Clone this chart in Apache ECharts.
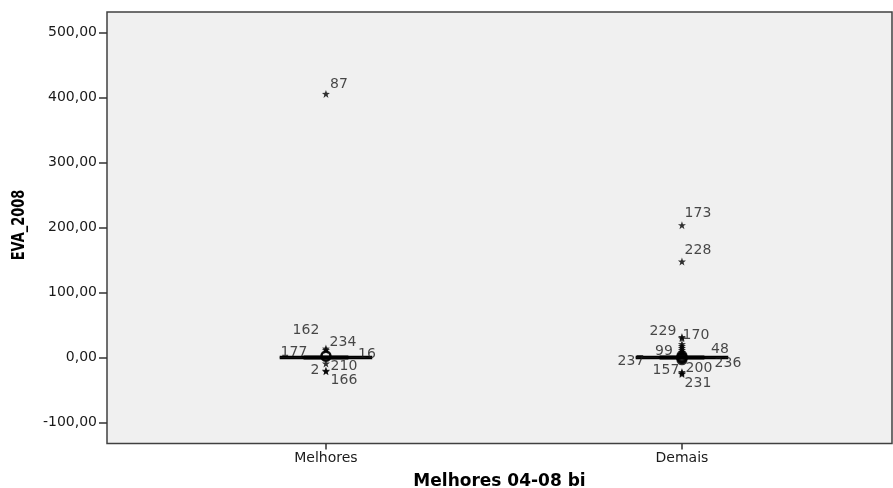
<!DOCTYPE html>
<html><head><meta charset="utf-8">
<script src="https://cdn.jsdelivr.net/npm/echarts@6/dist/echarts.min.js"></script>
<style>html,body{margin:0;padding:0;background:#fff}#c{width:893px;height:488px}</style>
</head><body><div id="c"></div>
<script>
const categories = ['Melhores', 'Demais'];
const yTicks = [-100, 0, 100, 200, 300, 400, 500];
const yTitle = 'EVA_2008';
const xTitle = 'Melhores 04-08 bi';
// box statistics per category: [min, Q1, median, Q3, max]
const boxMelhores = [-1, -0.4, 0.3, 0.8, 1.5];
const boxDemais = [-1, -0.4, 0.3, 0.8, 1.5];
// extreme cases (stars)
const melhoresExtremeIds = ['87', '162', '234', '2', '210', '166'];
const melhoresExtremeVals = [406, 14, 12, -20, -9, -21];
const demaisExtremeIds = ['173', '228', '229', '170', '99', '48', '157', '200', '231', '', '', '', ''];
const demaisExtremeVals = [204, 148, 32, 30, 15, 12, -22, -24, -25, 6, 9, 18, 21];
// outlier cases (circles)
const melhoresOutlierIds = ['177', '16'];
const melhoresOutlierVals = [3, 2];
const demaisOutlierIds = ['237', '236', '', '', ''];
const demaisOutlierVals = [1, -1, -3, 3, 0];

// label placement (style): offset in px from the mark
const labelOffset = {
  '87': [13, -10], '162': [-20, -18], '234': [17, -8], '2': [-11, 0], '210': [18, 3], '166': [18, 9],
  '177': [-32, -3], '16': [41, -2],
  '173': [16, -12], '228': [16, -11], '229': [-19, -6], '170': [14, -3], '99': [-18, 3], '48': [38, -1],
  '157': [-16, -2], '200': [17, -5], '231': [16, 9], '237': [-51, 4], '236': [46, 5]
};

const starPath = 'path://M0,-10 L2.35,-3.24 L9.51,-3.09 L3.8,1.24 L5.88,8.09 L0,4 L-5.88,8.09 L-3.8,1.24 L-9.51,-3.09 L-2.35,-3.24 Z';

function pts(cat, vals, ids) {
  return vals.map((v, i) => {
    const id = ids[i];
    const o = labelOffset[id] || [0, 0];
    return {
      value: [cat, v],
      label: { show: id !== '', formatter: id, position: 'inside', offset: o }
    };
  });
}

const extremes = pts(0, melhoresExtremeVals, melhoresExtremeIds).concat(pts(1, demaisExtremeVals, demaisExtremeIds));
const outliers = pts(0, melhoresOutlierVals, melhoresOutlierIds).concat(pts(1, demaisOutlierVals, demaisOutlierIds));
const boxData = [[0].concat(boxMelhores), [1].concat(boxDemais)];

const labelStyle = { fontFamily: 'DejaVu Sans', fontSize: 14, color: '#1a1a1a', align: 'center', verticalAlign: 'middle' };

const chart = echarts.init(document.getElementById('c'), null, { renderer: 'canvas' });
chart.setOption({
  animation: false,
  backgroundColor: '#fff',
  grid: { left: 107, right: 1, top: 12, bottom: 44.5, containLabel: false, outerBoundsMode: 'none', show: true, backgroundColor: '#f0f0f0', borderColor: '#404040', borderWidth: 1.5 },
  graphic: [{
    type: 'text', x: 19, y: 225, rotation: Math.PI / 2, scaleX: 0.72,
    style: { text: yTitle, font: 'bold 18px "DejaVu Sans"', fill: '#000', align: 'center', verticalAlign: 'middle' }
  }],
  xAxis: {
    type: 'value', min: -0.615, max: 1.59,
    splitLine: { show: false },
    axisLine: { show: false, onZero: false },
    axisTick: { show: true, customValues: [0, 1], length: 6, lineStyle: { color: '#333', width: 1.5 } },
    axisLabel: { customValues: [0, 1], formatter: v => categories[Math.round(v)], margin: 8, fontFamily: 'DejaVu Sans', fontSize: 14, color: '#1a1a1a' },
    name: xTitle, nameLocation: 'middle', nameGap: 30,
    nameTextStyle: { fontFamily: 'DejaVu Sans', fontWeight: 'bold', fontSize: 17, color: '#000' }
  },
  yAxis: {
    type: 'value', min: -132, max: 532,
    splitLine: { show: false },
    axisLine: { show: false, onZero: false },
    axisTick: { show: true, customValues: yTicks, length: 8, lineStyle: { color: '#333', width: 1.5 } },
    axisLabel: { customValues: yTicks, formatter: v => v.toFixed(2).replace('.', ','), margin: 10, fontFamily: 'DejaVu Sans', fontSize: 14, color: '#1a1a1a' }
  },
  series: [
    {
      type: 'custom',
      data: boxData,
      z: 3,
      renderItem: function (params, api) {
        const x = api.value(0);
        const st = [api.value(1), api.value(2), api.value(3), api.value(4), api.value(5)];
        const wide = api.size([0.26, 0])[0];
        const narrow = api.size([0.126, 0])[0];
        const p = st.map(v => api.coord([x, v]));
        const cx = p[0][0];
        return {
          type: 'group',
          children: [
            { type: 'line', shape: { x1: cx - wide / 2, y1: p[0][1], x2: cx + wide / 2, y2: p[0][1] }, style: { stroke: '#000', lineWidth: 2 } },
            { type: 'line', shape: { x1: cx - wide / 2, y1: p[4][1], x2: cx + wide / 2, y2: p[4][1] }, style: { stroke: '#000', lineWidth: 2 } },
            { type: 'rect', shape: { x: cx - narrow / 2, y: p[3][1], width: narrow, height: p[1][1] - p[3][1] }, style: { stroke: '#000', fill: '#000', lineWidth: 2 } },
            { type: 'line', shape: { x1: cx - narrow / 2, y1: p[2][1], x2: cx + narrow / 2, y2: p[2][1] }, style: { stroke: '#000', lineWidth: 4 } }
          ]
        };
      }
    },
    {
      type: 'scatter', data: outliers, symbol: 'circle', symbolSize: 9, z: 4,
      itemStyle: { color: 'rgba(0,0,0,0)', borderColor: '#000', borderWidth: 2.2 },
      label: labelStyle
    },
    {
      type: 'scatter', data: extremes, symbol: starPath, symbolSize: 8, z: 5,
      itemStyle: { color: '#000' },
      label: labelStyle
    }
  ]
});
</script></body></html>
